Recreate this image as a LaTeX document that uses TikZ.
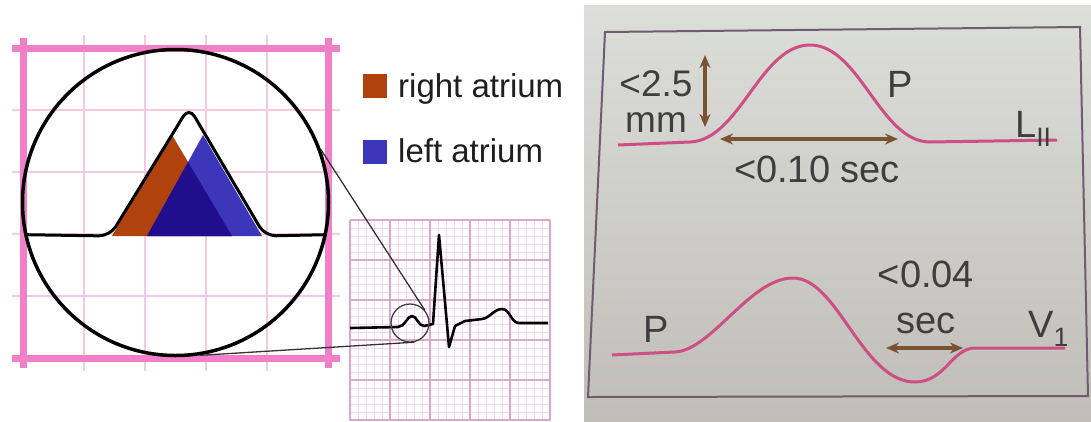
\documentclass[tikz,border=0pt]{standalone}
\usepackage{fontspec}
\setmainfont{Liberation Sans}
\usepackage{xcolor}
\definecolor{framepink}{RGB}{242,128,200}
\definecolor{gridpink}{RGB}{246,200,225}
\definecolor{ecgmajor}{RGB}{222,165,205}
\definecolor{ecgminor}{RGB}{242,215,232}
\definecolor{raorange}{RGB}{176,66,14}
\definecolor{lablue}{RGB}{60,54,186}
\definecolor{overlapnavy}{RGB}{32,14,140}
\definecolor{pagetop}{RGB}{220,222,218}
\definecolor{pagebottom}{RGB}{192,189,183}
\definecolor{boxline}{RGB}{112,92,112}
\definecolor{wavepink}{RGB}{206,78,134}
\definecolor{dimbrown}{RGB}{122,82,52}
\definecolor{printgray}{RGB}{62,62,62}
\usepackage{tikz}
\usetikzlibrary{arrows.meta,positioning}

\begin{document}
\begin{tikzpicture}[x=1pt,y=-1pt]
  \tikzstyle{frame}=[draw=framepink,line width=7pt]
  \tikzstyle{thingrid}=[draw=gridpink,line width=2pt]
  \tikzstyle{lens}=[circle,draw=black,line width=3.5pt,minimum size=306pt,inner sep=0pt]
  \tikzstyle{loupe}=[circle,draw=black!75,line width=1.3pt,minimum size=38pt,inner sep=0pt]
  \tikzstyle{keybox}=[rectangle,minimum size=24pt,inner sep=0pt]
  \tikzstyle{keytext}=[anchor=base west,inner sep=0pt,text=black!88,font=\fontsize{33}{38}\selectfont]
  \tikzstyle{wave}=[draw=wavepink,line width=3pt]
  \tikzstyle{dimarrow}=[{Stealth[length=13pt,width=11pt]}-{Stealth[length=13pt,width=11pt]},draw=dimbrown,line width=3.2pt]
  \tikzstyle{printlabel}=[inner sep=0pt,text=printgray,font=\fontsize{38}{46}\selectfont]
  \useasboundingbox (0,0) rectangle (1091,421);
  \fill[white] (0,0) rectangle (1091,421);

  % left panel: magnified P wave
  \foreach \gx in {84,145,206,267} \draw[thingrid] (\gx,35) -- (\gx,371);
  \foreach \gy in {110,172,234,296} \draw[thingrid] (12,\gy) -- (340,\gy);
  \draw[frame] (12,48) -- (340,48);
  \draw[frame] (12,358) -- (340,358);
  \draw[frame] (23,38) -- (23,368);
  \draw[frame] (328,38) -- (328,368);
  \fill[raorange] (112,236) -- (172,135) -- (232,236) -- cycle;
  \fill[lablue] (147,236) -- (203,135) -- (262,236) -- cycle;
  \begin{scope}
    \clip (112,236) -- (172,135) -- (232,236) -- cycle;
    \fill[overlapnavy] (147,236) -- (203,135) -- (262,236) -- cycle;
  \end{scope}
  \node[lens] (lens) at (175.5,202.5) {};
  \draw[black,line width=3pt,rounded corners=11pt] (lens.192.6) -- (110,236) -- (189,107) -- (265,236) -- (lens.-12.6);

  % legend
  \node[keybox,fill=raorange] (rakey) at (374.5,86) {};
  \node[keytext] (ratext) at (398,97) {right atrium};
  \node[keybox,fill=lablue] (lakey) at (374.5,152) {};
  \node[keytext] (latext) at (398,162) {left atrium};

  % ECG strip
  \foreach \gx in {350,358,...,550} \draw[ecgminor,line width=0.8pt] (\gx,220) -- (\gx,421);
  \foreach \gy in {220,228,...,420} \draw[ecgminor,line width=0.8pt] (350,\gy) -- (550,\gy);
  \foreach \gx in {350,390,...,550} \draw[ecgmajor,line width=1.4pt] (\gx,220) -- (\gx,421);
  \foreach \gy in {220,260,...,420} \draw[ecgmajor,line width=1.4pt] (350,\gy) -- (550,\gy);
  \draw[black,line width=2.6pt,line join=round]
    (350,328) -- (398,327) .. controls (405,327) and (407,316) .. (412,316)
    .. controls (417,316) and (418,326) .. (424,326) -- (433,324) -- (439,235) -- (449,347)
    -- (455,326) -- (465,321) -- (482,319) .. controls (490,318) and (494,309) .. (502,309)
    .. controls (510,309) and (511,323) .. (519,323) -- (548,323);
  \node[loupe] (loupe) at (410,323) {};
  \draw[black!80,line width=1.3pt] (lens.20) -- (loupe.42);
  \draw[black!80,line width=1.3pt] (lens.-81) -- (loupe.-78);

  % right panel: photographed P wave criteria
  \shade[top color=pagetop,bottom color=pagebottom] (584,5) rectangle (1091,421);
  \draw[boxline,line width=2pt] (605,32) -- (1080,27) -- (1088,396) -- (588,397) -- cycle;
  \draw[wave] (618,145) -- (690,142) .. controls (740,140) and (760,45) .. (810,45)
    .. controls (860,45) and (880,142) .. (930,142) -- (1057,140);
  \draw[wave] (612,355) -- (675,352) .. controls (712,350) and (750,278) .. (793,278)
    .. controls (838,278) and (862,382) .. (915,382) .. controls (945,382) and (952,348) .. (975,348) -- (1065,348);
  \coordinate (htop) at (705,55);
  \coordinate (hbot) at (705,127);
  \coordinate (wleft) at (720,139);
  \coordinate (wright) at (898,139);
  \coordinate (nleft) at (886,348);
  \coordinate (nright) at (963,348);
  \draw[dimarrow] (htop) -- (hbot);
  \draw[dimarrow] (wleft) -- (wright);
  \draw[dimarrow] (nleft) -- (nright);
  \node[printlabel,align=center,anchor=base,font=\fontsize{37}{36}\selectfont] (amp) at (656,132) {<2.5\\mm};
  \node[printlabel,anchor=base west] (ptop) at (887,97) {P};
  \node[printlabel,anchor=base west] (lead2) at (1015,137) {L\textsubscript{II}};
  \node[printlabel,anchor=base] (dur) at (817,182) {<0.10 sec};
  \node[printlabel,anchor=base west] (pbot) at (643,342) {P};
  \node[printlabel,align=center,anchor=base] (neg) at (926,333) {<0.04\\sec};
  \node[printlabel,anchor=base west] (lead1) at (1028,337) {V\textsubscript{1}};
\end{tikzpicture}
\end{document}
